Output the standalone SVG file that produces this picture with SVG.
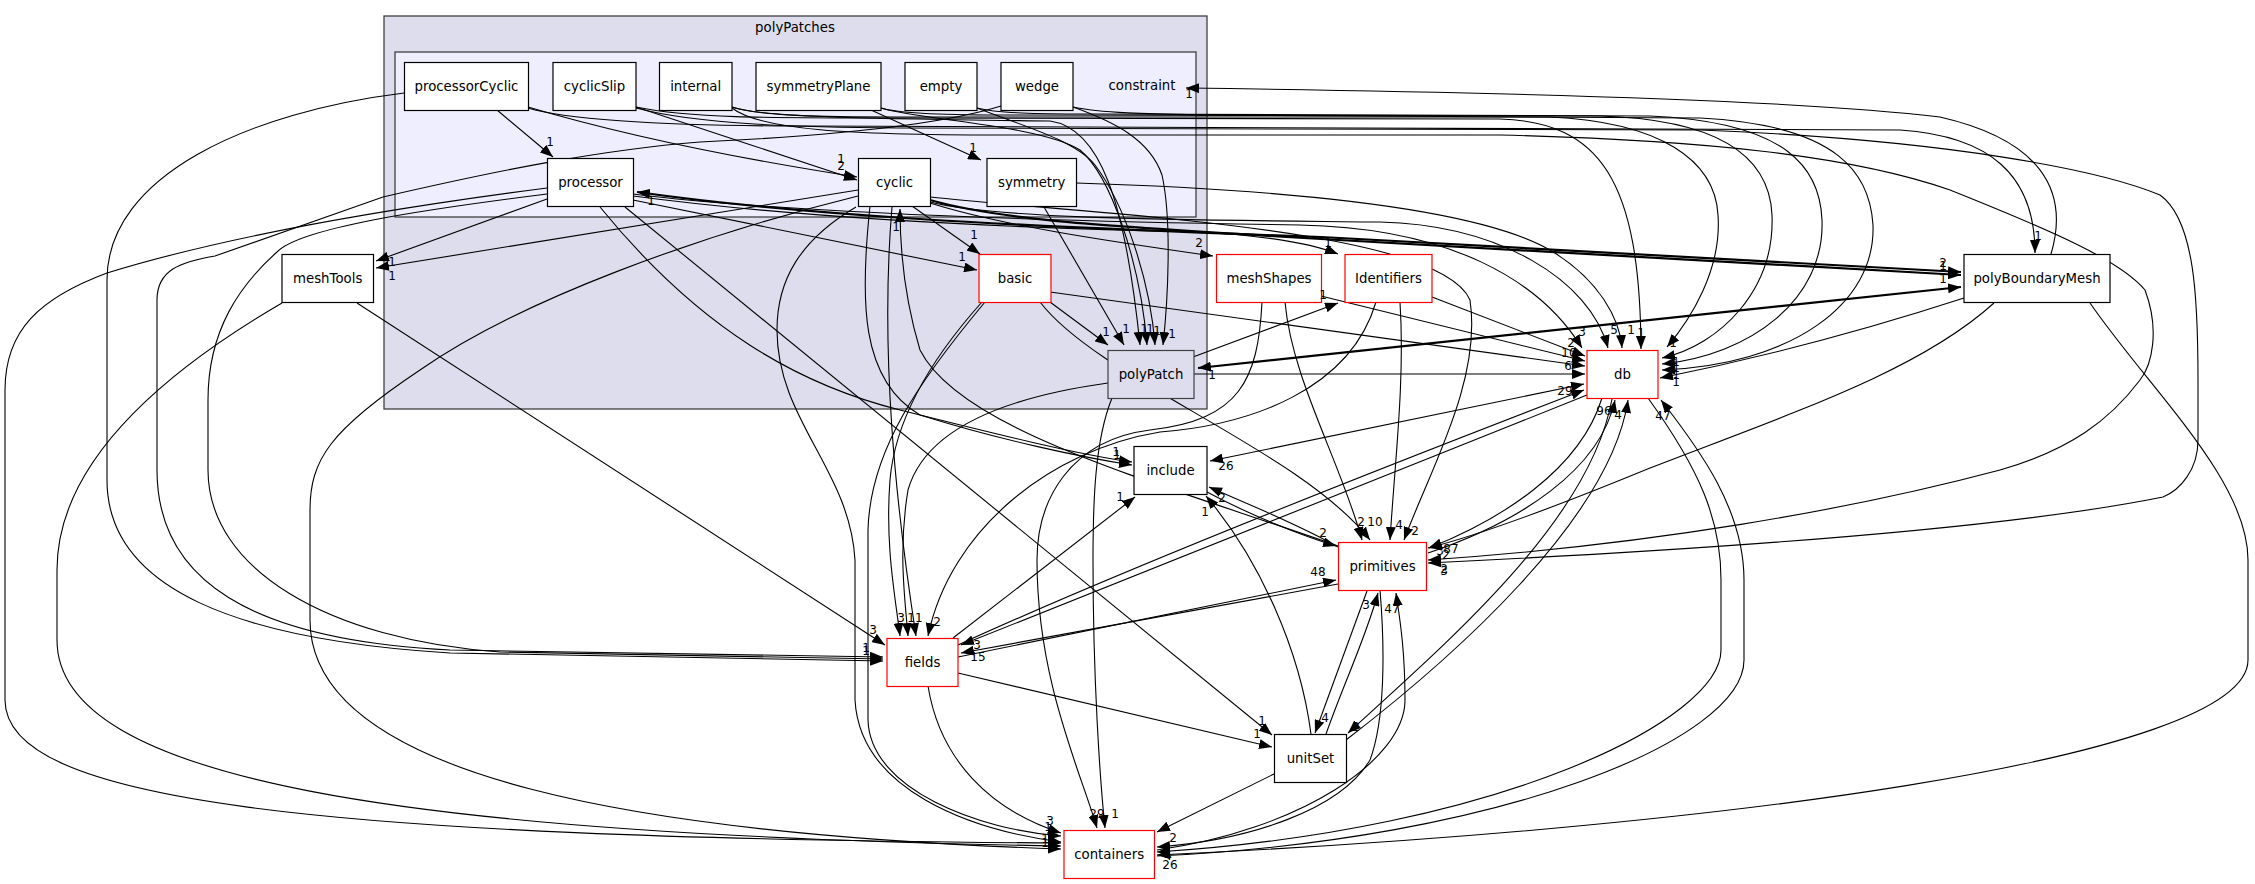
<svg xmlns="http://www.w3.org/2000/svg" width="2255" height="884" viewBox="0 0 2255 884">
<style>
.cl{stroke:#404040;stroke-width:1.3}
.n rect{fill:#fff;stroke:#000;stroke-width:1.2}
.r rect{fill:#fff;stroke:#ff0000;stroke-width:1.2}
.cur rect{fill:#ddddee;stroke:#404040;stroke-width:1.2}
text{font-family:"DejaVu Sans","Liberation Sans",sans-serif;fill:#000}
.t{font-size:13.3px;text-anchor:middle}
.e path{fill:none;stroke:#000;stroke-width:1.1;marker-end:url(#a)}
.e path.b{stroke-width:2.2}
.e path.d{marker-start:url(#s)}
.l text{font-size:12px;text-anchor:middle}
</style>
<defs>
<marker id="a" markerUnits="userSpaceOnUse" markerWidth="14" markerHeight="10" refX="13" refY="5" orient="auto"><path d="M0,0 L13,5 L0,10 z" fill="#000"/></marker>
<marker id="s" markerUnits="userSpaceOnUse" markerWidth="14" markerHeight="10" refX="13" refY="5" orient="auto-start-reverse"><path d="M0,0 L13,5 L0,10 z" fill="#000"/></marker>
</defs>
<rect width="2255" height="884" fill="#fff"/>
<g id="cluster-polyPatches">
<rect class="cl" x="384" y="16" width="823" height="393" fill="#ddddee"/>
<text class="t" x="795" y="32">polyPatches</text>
</g>
<g id="cluster-constraint">
<rect class="cl" x="395" y="52" width="801" height="165" fill="#eeeeff"/>
<text class="t" x="1142" y="90">constraint</text>
</g>
<g id="edges" class="e">
<path d="M497,110 L553,157"/>
<path d="M528,107 C640,140 760,162 857,177"/>
<path d="M636,107 C700,128 790,158 857,180"/>
<path d="M871,110 L981,160"/>
<path d="M528,108 C560,118 650,126 800,126 L1900,130 C1990,136 2035,175 2035,253"/>
<path d="M636,107 C690,118 760,118 900,118 L1500,119 C1600,122 1640,180 1641,349"/>
<path d="M732,107 C760,116 820,117 900,117 L1550,117 C1660,122 1715,160 1718,215 C1722,270 1690,320 1667,347"/>
<path d="M881,108 C900,114 950,115 1000,115 L1600,116 C1740,120 1770,170 1772,215 C1775,290 1720,345 1662,358"/>
<path d="M977,108 C1000,114 1050,114 1100,114 L1650,116 C1790,122 1820,170 1822,220 C1825,300 1750,355 1662,364"/>
<path d="M1073,107 C1100,113 1150,114 1200,115 L1700,118 C1840,125 1870,175 1873,225 C1876,305 1790,365 1662,370"/>
<path d="M732,107 C760,118 900,119 1050,121 C1100,128 1125,200 1140,345"/>
<path d="M881,108 C920,120 1040,125 1080,150 C1110,175 1140,260 1147,345"/>
<path d="M977,108 C1020,125 1075,140 1095,165 C1125,205 1150,280 1155,345"/>
<path d="M1073,107 C1115,122 1150,140 1162,175 C1172,220 1168,300 1163,345"/>
<path d="M1044,207 L1124,345"/>
<path d="M1050,302 L1108,345"/>
<path d="M1001,106 C950,122 850,135 700,142 C600,150 500,170 383,197 L215,256 C180,262 157,270 157,300 L157,470 C157,580 250,640 450,650 L883,657"/>
<path d="M404,93 C250,112 107,175 107,280 L107,480 C107,590 240,640 450,653 L883,661"/>
<path d="M547,199 L376,261"/>
<path d="M858,190 L376,268"/>
<path d="M547,188 C400,207 230,235 107,273 C40,298 5,330 5,390 L5,700 C5,800 300,838 1061,843"/>
<path d="M547,194 C420,210 300,228 277,252 C240,285 208,330 208,400 L208,470 C208,570 330,640 500,652 L883,659"/>
<path d="M858,196 C700,235 520,300 420,370 C330,430 310,460 310,510 L310,620 C310,780 650,835 1061,849"/>
<path d="M282,303 C150,380 57,470 57,570 L57,640 C57,780 400,835 1061,846"/>
<path d="M357,303 L885,645"/>
<path class="b d" d="M637,192 C800,215 1000,226 1321,237 L1961,272"/>
<path class="b" d="M930,200 C1000,220 1100,226 1321,239 L1961,275"/>
<path d="M930,203 C1000,225 1100,240 1213,256"/>
<path d="M633,196 C800,218 1000,228 1200,232 C1270,236 1310,243 1338,254"/>
<path d="M633,194 C800,215 1100,222 1300,225 C1450,228 1540,280 1582,348"/>
<path d="M930,202 C1000,220 1200,220 1380,222 C1500,225 1590,280 1608,348"/>
<path d="M1076,183 C1300,190 1480,210 1550,250 C1600,280 1620,320 1622,348"/>
<path d="M633,200 L977,270"/>
<path d="M912,206 L980,254"/>
<path d="M1050,292 L1585,366"/>
<path d="M1321,296 L1585,361"/>
<path d="M1432,297 L1585,356"/>
<path d="M1194,374 L1585,374"/>
<path class="b d" d="M1198,368 L1961,287"/>
<path d="M1193,357 L1338,303"/>
<path d="M2051,254 C2070,190 2040,140 1940,117 C1800,100 1500,92 1186,88"/>
<path d="M1964,298 C1850,335 1750,360 1660,378"/>
<path d="M1994,303 C1920,370 1800,410 1650,468 C1560,505 1480,535 1428,548"/>
<path d="M2090,303 C2150,390 2248,480 2248,560 L2248,660 C2248,760 1700,830 1157,855"/>
<path d="M636,108 C700,125 800,127 900,128 L1700,130 C1950,140 2100,170 2160,195 C2195,220 2198,300 2198,380 L2198,440 C2198,470 2180,490 2163,497 C2000,530 1700,550 1428,563"/>
<path d="M732,108 C760,130 850,135 1000,135 L1500,135 C1700,140 1850,155 1950,190 C2050,230 2120,260 2145,290 C2160,330 2152,365 2140,380 C2110,420 2070,450 2000,470 C1850,510 1650,545 1428,560"/>
<path d="M1285,302 C1292,380 1340,460 1362,540"/>
<path d="M1400,302 C1405,380 1395,460 1390,540"/>
<path d="M1040,302 C1100,380 1300,450 1370,540"/>
<path d="M930,197 C1100,215 1440,228 1470,300 C1482,380 1430,470 1404,540"/>
<path d="M982,302 C930,360 895,420 890,480 C885,545 895,595 900,636"/>
<path d="M1108,383 C1000,398 925,430 908,490 C898,550 905,600 908,636"/>
<path d="M892,207 C880,350 895,500 916,636"/>
<path d="M1376,302 C1350,390 1250,425 1160,432 C1050,450 950,530 928,636"/>
<path d="M1262,302 C1258,380 1240,420 1150,430 C1070,440 1037,500 1037,560 C1037,680 1080,770 1097,828"/>
<path d="M1112,398 C1095,440 1093,500 1093,560 C1093,680 1100,780 1105,828"/>
<path d="M985,302 C920,380 870,450 868,530 L868,720 C870,790 980,830 1061,836"/>
<path d="M856,207 C800,240 777,280 777,330 C777,420 850,470 855,560 L855,700 C860,790 970,830 1061,842"/>
<path d="M600,207 C700,330 800,385 900,410 C1000,435 1080,455 1132,462"/>
<path d="M870,206 C860,300 860,380 920,415 C1000,440 1080,457 1132,465"/>
<path d="M625,207 L1272,735"/>
<path d="M1338,546 C1150,480 960,430 920,350 C905,300 900,250 900,209"/>
<path d="M1311,734 C1300,650 1260,560 1206,496"/>
<path d="M953,638 L1135,497"/>
<path class="d" d="M1584,384 L1210,461"/>
<path d="M1338,547 C1300,525 1250,505 1209,487"/>
<path d="M1207,492 C1250,515 1300,535 1336,546"/>
<path d="M958,645 C1100,580 1350,480 1584,390"/>
<path d="M1587,395 C1350,490 1100,590 961,645"/>
<path d="M958,657 L1336,580"/>
<path d="M1338,584 L961,653"/>
<path d="M958,673 L1272,747"/>
<path d="M1326,734 C1345,680 1365,640 1378,593"/>
<path d="M1367,591 L1315,733"/>
<path d="M1274,774 L1157,832"/>
<path d="M928,686 C940,760 990,810 1061,833"/>
<path d="M1612,399 C1590,520 1450,640 1348,733"/>
<path d="M1346,740 C1450,660 1610,520 1628,400"/>
<path d="M1602,398 C1580,470 1500,520 1429,548"/>
<path d="M1428,553 C1520,522 1600,470 1615,400"/>
<path d="M1648,398 C1700,470 1721,520 1721,580 L1721,650 C1721,720 1500,830 1157,852"/>
<path d="M1157,856 C1500,840 1744,740 1744,660 L1744,580 C1744,510 1700,450 1661,400"/>
<path d="M1157,850 C1300,830 1405,760 1405,700 C1405,650 1400,620 1396,593"/>
<path d="M1380,590 C1385,650 1385,720 1370,760 C1340,810 1250,840 1157,847"/>
</g>
<g id="node-processorCyclic" class="n"><rect x="404.5" y="62.5" width="124" height="48"/><text class="t" x="466.5" y="91">processorCyclic</text></g>
<g id="node-cyclicSlip" class="n"><rect x="553" y="62.5" width="83" height="48"/><text class="t" x="594.5" y="91">cyclicSlip</text></g>
<g id="node-internal" class="n"><rect x="659.5" y="62.5" width="72.5" height="48"/><text class="t" x="695.7" y="91">internal</text></g>
<g id="node-symmetryPlane" class="n"><rect x="756" y="62.5" width="125" height="48"/><text class="t" x="818.5" y="91">symmetryPlane</text></g>
<g id="node-empty" class="n"><rect x="905" y="62.5" width="72" height="48"/><text class="t" x="941" y="91">empty</text></g>
<g id="node-wedge" class="n"><rect x="1001" y="62.5" width="72" height="48"/><text class="t" x="1037" y="91">wedge</text></g>
<g id="node-processor" class="n"><rect x="547.5" y="158.5" width="86" height="48"/><text class="t" x="590.5" y="187">processor</text></g>
<g id="node-cyclic" class="n"><rect x="858.5" y="158.5" width="72" height="48"/><text class="t" x="894.5" y="187">cyclic</text></g>
<g id="node-symmetry" class="n"><rect x="987" y="158.5" width="89.5" height="48"/><text class="t" x="1031.7" y="187">symmetry</text></g>
<g id="node-meshTools" class="n"><rect x="282" y="254.5" width="91.5" height="48"/><text class="t" x="327.7" y="283">meshTools</text></g>
<g id="node-basic" class="r"><rect x="979" y="254.5" width="72" height="48"/><text class="t" x="1015" y="283">basic</text></g>
<g id="node-polyPatch" class="cur"><rect x="1108" y="350.5" width="86" height="48"/><text class="t" x="1151" y="379">polyPatch</text></g>
<g id="node-meshShapes" class="r"><rect x="1216.5" y="254.5" width="105" height="48"/><text class="t" x="1269" y="283">meshShapes</text></g>
<g id="node-Identifiers" class="r"><rect x="1345" y="254.5" width="87" height="48"/><text class="t" x="1388.5" y="283">Identifiers</text></g>
<g id="node-polyBoundaryMesh" class="n"><rect x="1964" y="254.5" width="146" height="48"/><text class="t" x="2037" y="283">polyBoundaryMesh</text></g>
<g id="node-db" class="r"><rect x="1587" y="350.5" width="71" height="48"/><text class="t" x="1622.5" y="379">db</text></g>
<g id="node-include" class="n"><rect x="1134" y="446.5" width="73" height="48"/><text class="t" x="1170.5" y="475">include</text></g>
<g id="node-primitives" class="r"><rect x="1338.5" y="542.5" width="88" height="48"/><text class="t" x="1382.5" y="571">primitives</text></g>
<g id="node-fields" class="r"><rect x="887" y="638.5" width="71" height="48"/><text class="t" x="922.5" y="667">fields</text></g>
<g id="node-unitSet" class="n"><rect x="1274.5" y="734.5" width="72" height="48"/><text class="t" x="1310.5" y="763">unitSet</text></g>
<g id="node-containers" class="r"><rect x="1064" y="830.5" width="90.5" height="48"/><text class="t" x="1109.2" y="859">containers</text></g>
<g id="edge-labels" class="l">
<text x="550" y="146">1</text>
<text x="841" y="163">1</text><text x="841" y="170">2</text>
<text x="973" y="152">1</text>
<text x="392" y="266">1</text><text x="392" y="280">1</text>
<text x="651" y="205">1</text>
<text x="896" y="231">1</text>
<text x="974" y="239">1</text><text x="962" y="261">1</text>
<text x="1106" y="336">1</text><text x="1126" y="333">1</text><text x="1144" y="333">1</text><text x="1150" y="333">1</text><text x="1157" y="335">1</text><text x="1172" y="338">1</text>
<text x="1212" y="379">1</text>
<text x="1199" y="247">2</text>
<text x="1328" y="247">1</text><text x="1323" y="299">1</text>
<text x="2038" y="240">1</text>
<text x="1943" y="267">2</text><text x="1943" y="270">1</text><text x="1943" y="283">1</text>
<text x="1189" y="98">1</text>
<text x="1582" y="336">3</text><text x="1614" y="334">5</text><text x="1631" y="334">1</text><text x="1641" y="337">1</text><text x="1673" y="347">1</text>
<text x="1571" y="347">2</text><text x="1569" y="357">10</text><text x="1568" y="370">6</text><text x="1565" y="395">29</text>
<text x="1676" y="366">1</text><text x="1676" y="372">1</text><text x="1676" y="379">1</text><text x="1676" y="386">1</text>
<text x="1604" y="415">96</text><text x="1618" y="419">4</text><text x="1663" y="420">47</text>
<text x="1116" y="456">1</text><text x="1117" y="459">1</text>
<text x="1226" y="470">26</text><text x="1120" y="501">1</text><text x="1222" y="502">2</text><text x="1205" y="516">1</text>
<text x="1361" y="526">2</text><text x="1375" y="526">10</text><text x="1399" y="529">4</text><text x="1415" y="535">2</text>
<text x="1323" y="537">2</text><text x="1318" y="576">48</text>
<text x="1440" y="555">3</text><text x="1451" y="553">87</text><text x="1446" y="559">2</text>
<text x="1444" y="573">2</text><text x="1444" y="575">3</text>
<text x="1366" y="609">3</text><text x="1392" y="613">47</text>
<text x="901" y="622">3</text><text x="915" y="622">11</text><text x="937" y="626">2</text>
<text x="873" y="634">3</text><text x="866" y="652">1</text><text x="866" y="655">1</text>
<text x="977" y="649">3</text><text x="978" y="661">15</text>
<text x="1262" y="725">1</text><text x="1257" y="738">1</text><text x="1325" y="722">4</text><text x="1356" y="731">2</text>
<text x="1050" y="825">3</text><text x="1048" y="831">1</text><text x="1045" y="843">1</text><text x="1045" y="847">1</text>
<text x="1097" y="818">29</text><text x="1115" y="818">1</text><text x="1173" y="842">2</text>
<text x="1168" y="857">1</text><text x="1168" y="860">4</text><text x="1170" y="869">26</text>
</g>
</svg>
